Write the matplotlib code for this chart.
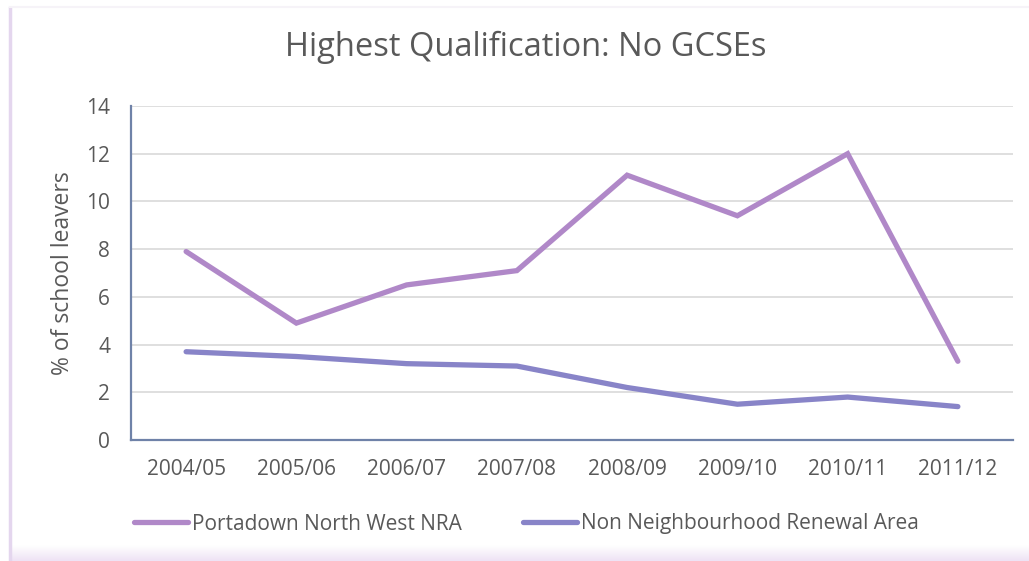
import matplotlib
matplotlib.use("Agg")
import matplotlib.pyplot as plt
import numpy as np
from matplotlib.lines import Line2D

categories = ["2004/05", "2005/06", "2006/07", "2007/08", "2008/09", "2009/10", "2010/11", "2011/12"]
portadown = [7.9, 4.9, 6.5, 7.1, 11.1, 9.4, 12.0, 3.3]
non_nra = [3.7, 3.5, 3.2, 3.1, 2.2, 1.5, 1.8, 1.4]
series_names = ["Portadown North West NRA", "Non Neighbourhood Renewal Area"]
yticks = [0, 2, 4, 6, 8, 10, 12, 14]

plt.rcParams['font.family'] = ['Open Sans', 'DejaVu Sans']
text_color = "#595959"
c1 = "#B088C8"
c2 = "#8884C8"
LW = 3.8

fig = plt.figure(figsize=(10.29, 5.61), dpi=100)
fig.patch.set_facecolor("white")

# frame decorations
W, H = 1029, 561
fig.add_artist(Line2D([10/W, 10/W], [0, 1 - 8/H], color="#E4D6EE", lw=2.5, transform=fig.transFigure))
fig.add_artist(Line2D([10/W, 1], [1 - 7/H, 1 - 7/H], color="#F6F3F8", lw=1.5, transform=fig.transFigure))
grad = np.linspace(0, 1, 20).reshape(-1, 1)
gax = fig.add_axes([11/W, 0, 1 - 11/W, 16/H])
gax.imshow(grad, aspect="auto", cmap=matplotlib.colors.LinearSegmentedColormap.from_list("g", ["#FFFFFF", "#EEE3F5"]), origin="upper")
gax.axis("off")

ax = fig.add_axes([131/W, 1 - 440/H, (1013 - 131)/W, (440 - 106)/H])
x = np.arange(len(categories))
ax.plot(x, portadown, color=c1, lw=LW, solid_capstyle="round", solid_joinstyle="miter", label=series_names[0])
ax.plot(x, non_nra, color=c2, lw=LW, solid_capstyle="round", solid_joinstyle="miter", label=series_names[1])

ax.set_xlim(-0.5, len(categories) - 0.5)
ax.set_ylim(0, 14)
ax.set_yticks(yticks)
ax.set_xticks(x)
ax.set_xticklabels(categories)
ax.yaxis.grid(True, color="#D9D9D9", lw=1.2)
ax.set_axisbelow(True)
for s in ["top", "right"]:
    ax.spines[s].set_visible(False)
for s in ["left", "bottom"]:
    ax.spines[s].set_color("#6F82A8")
    ax.spines[s].set_linewidth(1.6)
ax.tick_params(axis="both", length=0, colors=text_color, labelsize=15)
ax.tick_params(axis="y", pad=15)
ax.tick_params(axis="x", pad=14)
ax.set_ylabel("% of school leavers", color=text_color, fontsize=16.5, labelpad=8)

fig.text(526/W, 1 - 47/H, "Highest Qualification: No GCSEs", ha="center", va="center", fontsize=23.5, color=text_color)

handles = [Line2D([], [], color=c1, lw=LW, solid_capstyle="round"),
           Line2D([], [], color=c2, lw=LW, solid_capstyle="round")]
fig.legend(handles, series_names, loc="center left", bbox_to_anchor=(134/W, 1 - 524/H), ncol=2,
           frameon=False, fontsize=15, labelcolor=text_color, handlelength=2.6, handletextpad=0.2,
           columnspacing=2.9, borderpad=0, borderaxespad=0)

fig.savefig("out.png", dpi=100)
